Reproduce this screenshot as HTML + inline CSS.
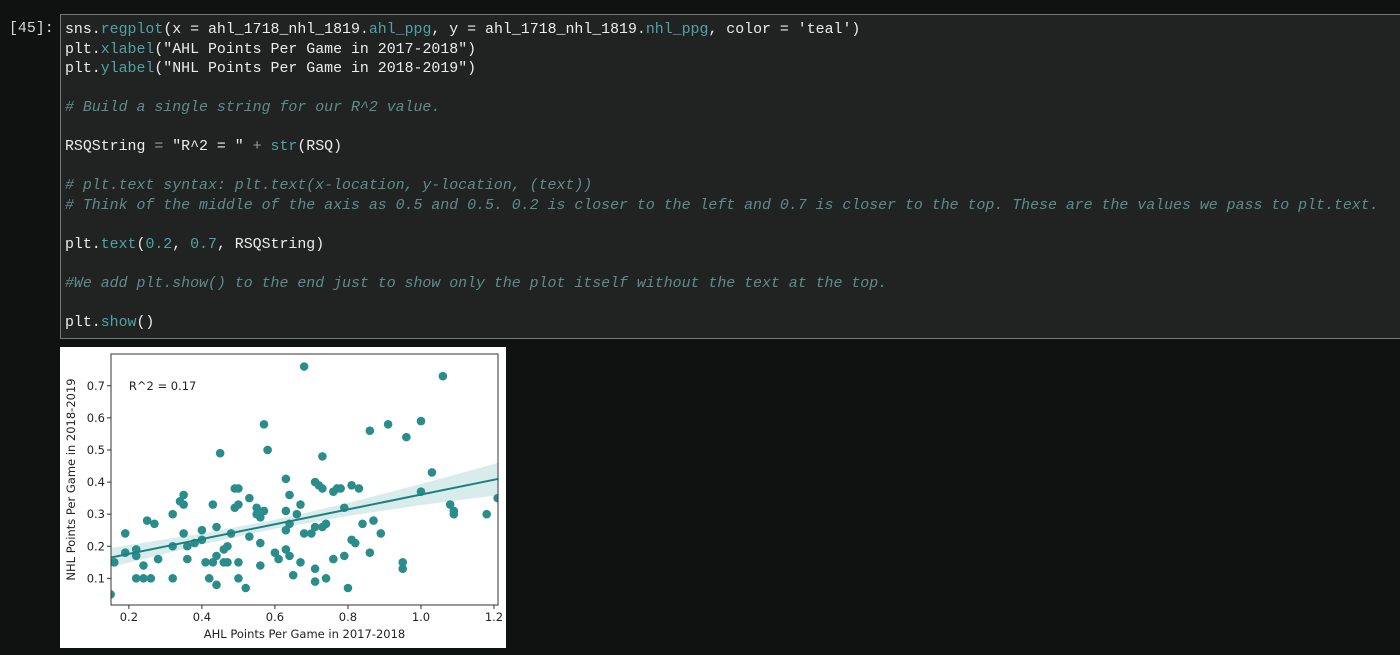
<!DOCTYPE html>
<html><head><meta charset="utf-8">
<style>
html,body{margin:0;padding:0;background:#101212;width:1400px;height:655px;overflow:hidden}
#prompt{position:absolute;left:9px;top:21px;font:14.9px "Liberation Mono",monospace;color:#d8d8d8}
#cell{position:absolute;left:60px;top:14px;width:1345px;height:325px;background:#212322;border:1px solid #6f7a76;box-sizing:border-box}
#code{position:absolute;left:4px;top:6px;margin:0;font:14.9px/19.55px "Liberation Mono",monospace;color:#ececec;white-space:pre}
.f{color:#4fa3a6}.c{color:#5e8c8c;font-style:italic}.n{color:#4fa3a6}.o{color:#9a9a9a}
#plot{position:absolute;left:60px;top:347px;width:446px;height:301px;background:#fff}
</style></head><body>
<div id="prompt">[45]:</div>
<div id="cell"><pre id="code">sns.<span class="f">regplot</span>(x = ahl_1718_nhl_1819.<span class="f">ahl_ppg</span>, y = ahl_1718_nhl_1819.<span class="f">nhl_ppg</span>, color = 'teal')
plt.<span class="f">xlabel</span>("AHL Points Per Game in 2017-2018")
plt.<span class="f">ylabel</span>("NHL Points Per Game in 2018-2019")

<span class="c"># Build a single string for our R^2 value.</span>

RSQString <span class="o">=</span> "R^2 = " <span class="o">+</span> <span class="f">str</span>(RSQ)

<span class="c"># plt.text syntax: plt.text(x-location, y-location, (text))</span>
<span class="c"># Think of the middle of the axis as 0.5 and 0.5. 0.2 is closer to the left and 0.7 is closer to the top. These are the values we pass to plt.text.</span>

plt.<span class="f">text</span>(<span class="n">0.2</span>, <span class="n">0.7</span>, RSQString)

<span class="c">#We add plt.show() to the end just to show only the plot itself without the text at the top.</span>

plt.<span class="f">show</span>()</pre></div>
<div id="plot">
<svg id="svg" width="446" height="301" xmlns="http://www.w3.org/2000/svg" font-family="DejaVu Sans, sans-serif"></svg>
</div>
<script>
const xVals=[0.15,0.16,0.19,0.19,0.22,0.22,0.22,0.24,0.24,0.25,0.26,0.27,0.28,0.32,0.32,0.32,0.34,0.35,0.35,0.35,0.36,0.36,0.38,0.40,0.40,0.41,0.42,0.43,0.43,0.44,0.44,0.44,0.45,0.46,0.46,0.47,0.47,0.48,0.49,0.49,0.50,0.50,0.50,0.50,0.52,0.53,0.53,0.55,0.55,0.56,0.56,0.56,0.57,0.57,0.58,0.60,0.61,0.63,0.63,0.63,0.63,0.64,0.64,0.64,0.65,0.66,0.67,0.67,0.68,0.68,0.70,0.71,0.71,0.71,0.71,0.72,0.73,0.73,0.73,0.74,0.74,0.76,0.76,0.77,0.78,0.79,0.79,0.80,0.81,0.81,0.82,0.83,0.84,0.86,0.86,0.87,0.89,0.91,0.95,0.95,0.96,1.00,1.00,1.03,1.06,1.08,1.09,1.09,1.18,1.21];
const yVals=[0.05,0.15,0.24,0.18,0.19,0.17,0.10,0.10,0.14,0.28,0.10,0.27,0.16,0.30,0.20,0.10,0.34,0.36,0.33,0.24,0.20,0.16,0.21,0.25,0.22,0.15,0.10,0.33,0.15,0.26,0.17,0.08,0.49,0.19,0.15,0.20,0.15,0.24,0.38,0.32,0.38,0.33,0.15,0.10,0.07,0.35,0.23,0.32,0.30,0.29,0.21,0.14,0.58,0.31,0.50,0.18,0.16,0.41,0.31,0.25,0.19,0.36,0.27,0.17,0.11,0.30,0.33,0.15,0.76,0.24,0.24,0.40,0.26,0.13,0.09,0.39,0.48,0.38,0.26,0.27,0.10,0.37,0.16,0.38,0.38,0.32,0.17,0.07,0.39,0.22,0.21,0.38,0.27,0.56,0.18,0.28,0.24,0.58,0.15,0.13,0.54,0.59,0.37,0.43,0.73,0.33,0.31,0.30,0.30,0.35];
const fitCoef=[0.130,0.231];
const bandX=[0.15,0.4,0.6,0.8,1.0,1.21];
const bandHW=[0.03,0.017,0.014,0.02,0.033,0.05];
const xTicks=[0.2,0.4,0.6,0.8,1.0,1.2];
const xTickLabels=["0.2","0.4","0.6","0.8","1.0","1.2"];
const yTicks=[0.1,0.2,0.3,0.4,0.5,0.6,0.7];
const yTickLabels=["0.1","0.2","0.3","0.4","0.5","0.6","0.7"];
const annot={x:0.2,y:0.7,text:"R^2 = 0.17"};

const svg=document.getElementById('svg');
const NS="http://www.w3.org/2000/svg";
const L=51,R=438,T=7,B=258;
const xMin=0.151,xMax=1.211,yMin=0.017,yMax=0.799;
const sx=v=>L+(v-xMin)/(xMax-xMin)*(R-L);
const sy=v=>B-(v-yMin)/(yMax-yMin)*(B-T);
function mk(tag,attrs){const e=document.createElementNS(NS,tag);for(const k in attrs)e.setAttribute(k,attrs[k]);svg.appendChild(e);return e;}
const clip=mk('clipPath',{id:'cl'});
const cr=document.createElementNS(NS,'rect');cr.setAttribute('x',L);cr.setAttribute('y',T);cr.setAttribute('width',R-L);cr.setAttribute('height',B-T);clip.appendChild(cr);
const fit=x=>fitCoef[0]+fitCoef[1]*x;
let up=bandX.map((x,i)=>sx(x)+','+sy(fit(x)+bandHW[i]));
let dn=bandX.map((x,i)=>sx(x)+','+sy(fit(x)-bandHW[i])).reverse();
const band=mk('polygon',{points:up.concat(dn).join(' '),fill:'#008080','fill-opacity':'0.15','clip-path':'url(#cl)'});


xVals.forEach((x,i)=>{
  const c=mk('circle',{cx:sx(x),cy:sy(yVals[i]),r:4.3,fill:'#2b8c8c','clip-path':'url(#cl)'});
  
  
});
const ln=mk('line',{x1:sx(xMin),y1:sy(fit(xMin)),x2:sx(xMax),y2:sy(fit(xMax)),stroke:'#1f7f80','stroke-width':2});


const fr=mk('rect',{x:L,y:T,width:R-L,height:B-T,fill:'none',stroke:'#333','stroke-width':1});


xTicks.forEach((t,i)=>{
  mk('line',{x1:sx(t),x2:sx(t),y1:B,y2:B+4,stroke:'#333'});
  const tx=mk('text',{x:sx(t),y:B+16,'font-size':11.5,'text-anchor':'middle',fill:'#222'});tx.textContent=xTickLabels[i];
  
  
});
yTicks.forEach((t,i)=>{
  mk('line',{x1:L-4,x2:L,y1:sy(t),y2:sy(t),stroke:'#333'});
  const tx=mk('text',{x:L-6,y:sy(t)+4,'font-size':11.5,'text-anchor':'end',fill:'#222'});tx.textContent=yTickLabels[i];
  
  
});
const xl=mk('text',{x:(L+R)/2,y:B+33,'font-size':11.5,'text-anchor':'middle',fill:'#222'});xl.textContent="AHL Points Per Game in 2017-2018";


const yl=mk('text',{x:0,y:0,'font-size':11.5,'text-anchor':'middle',fill:'#222',transform:`translate(15,${(T+B)/2}) rotate(-90)`});yl.textContent="NHL Points Per Game in 2018-2019";


const an=mk('text',{x:sx(annot.x),y:sy(annot.y)+4,'font-size':11.5,fill:'#222'});an.textContent=annot.text;


</script>
</body></html>
